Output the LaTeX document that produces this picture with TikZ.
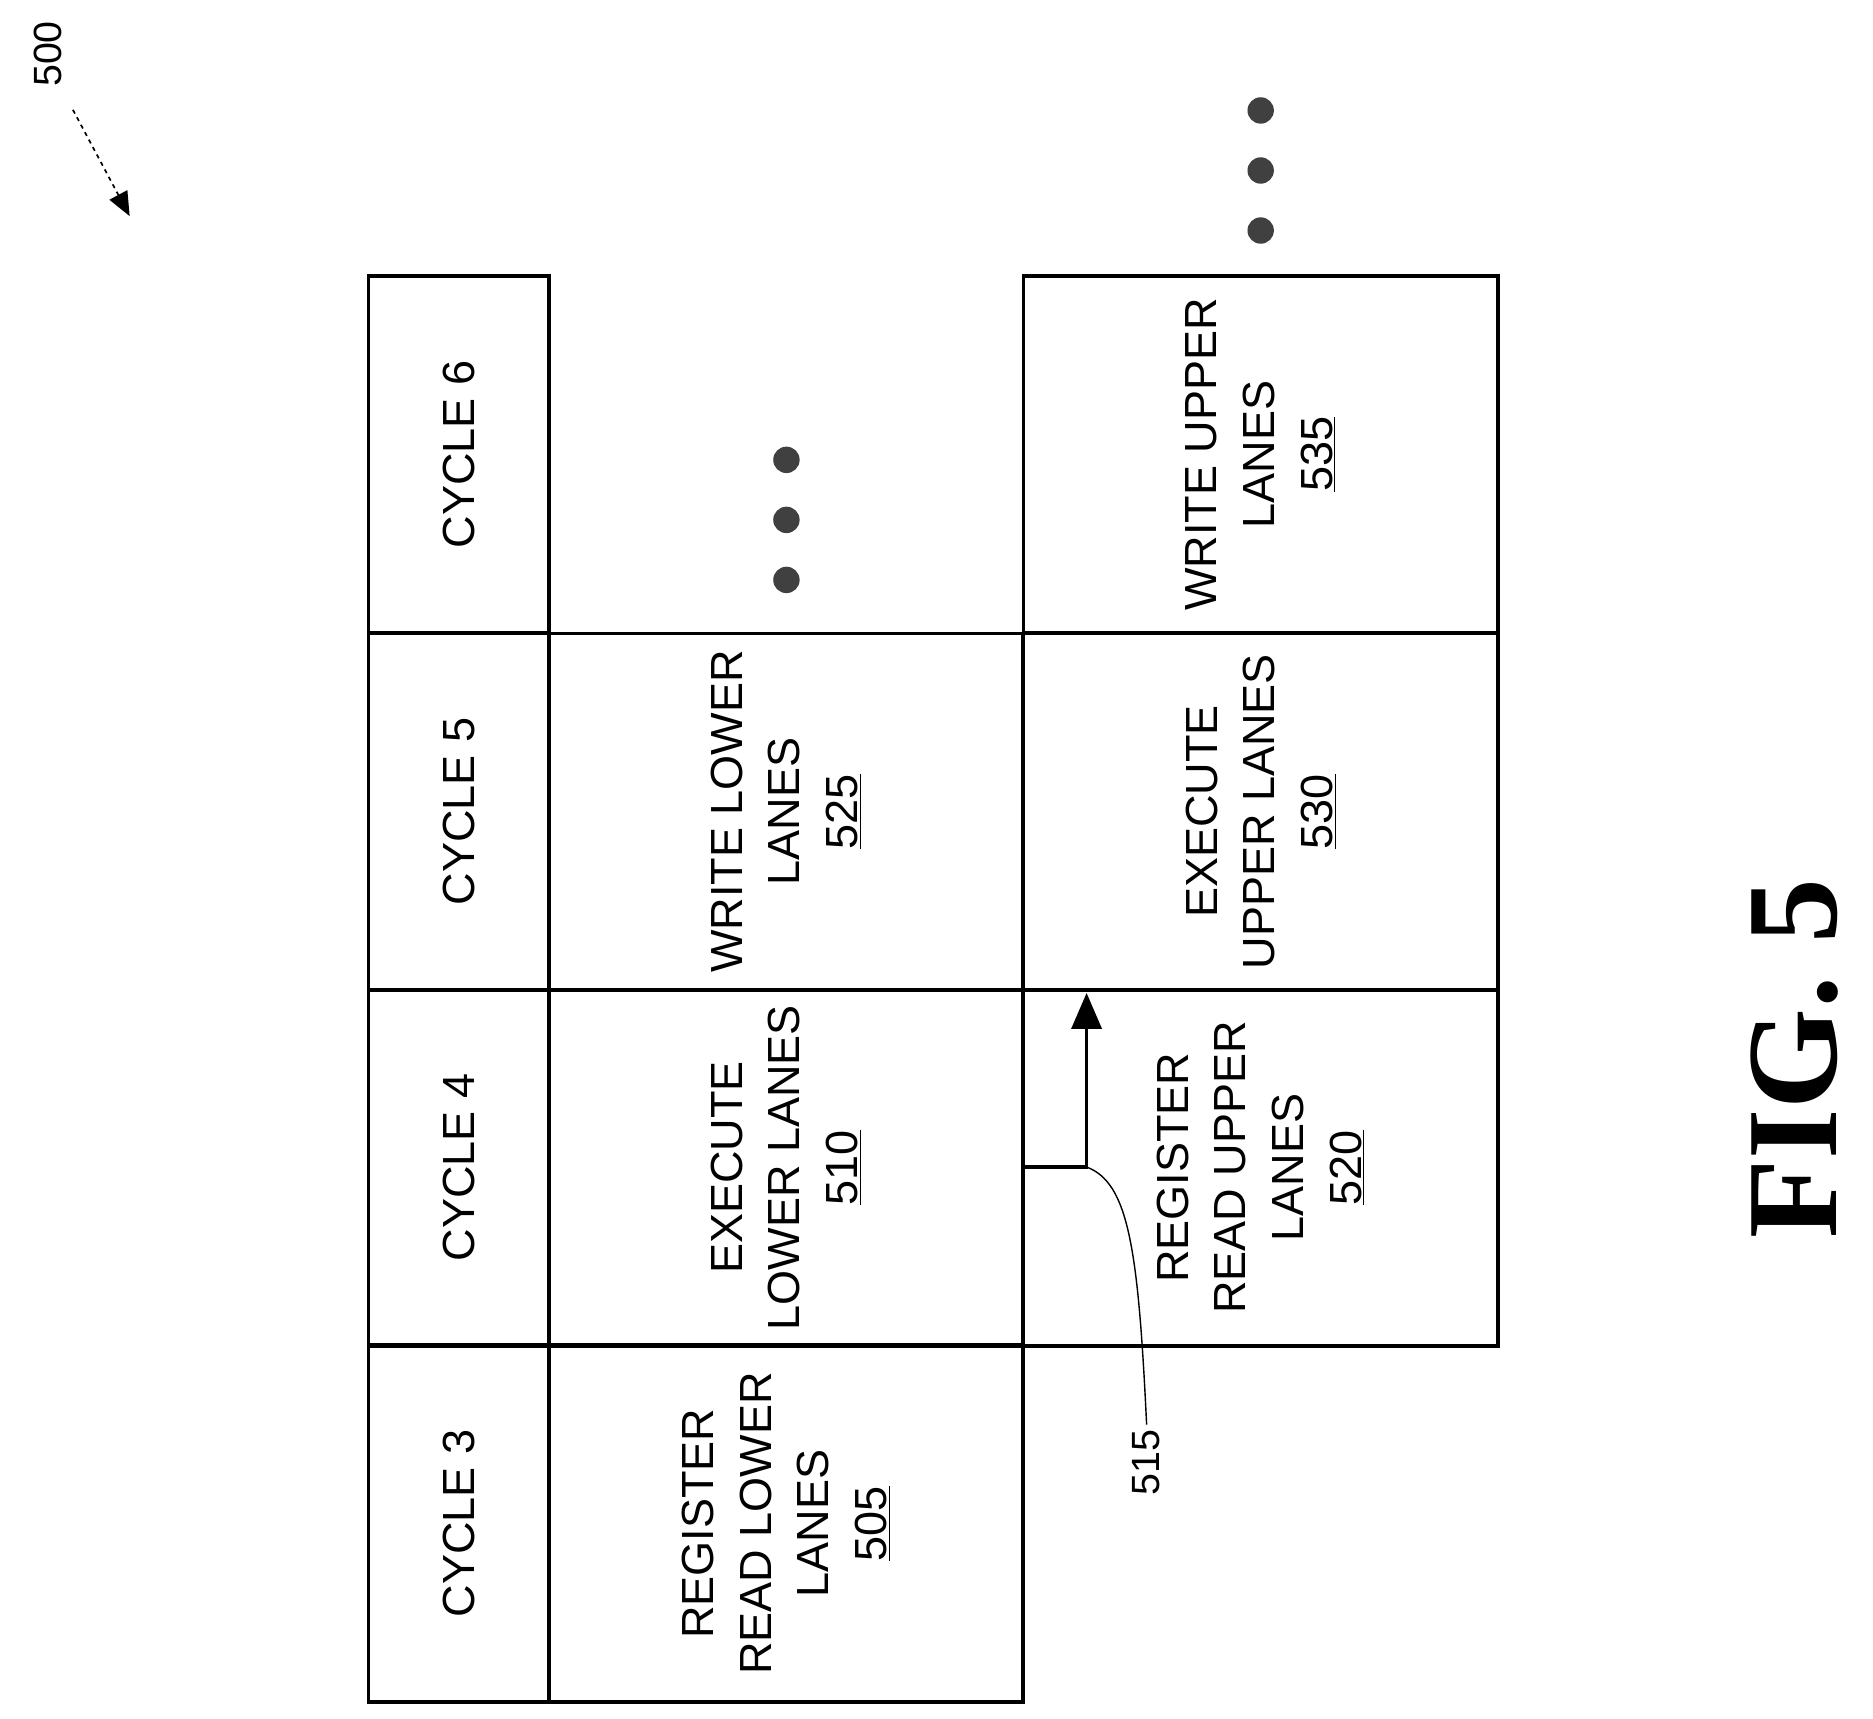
\documentclass[tikz,border=0pt]{standalone}
\usepackage{fontspec}
\setmainfont{Liberation Sans}
\newfontfamily\figfont{Liberation Serif}
\usetikzlibrary{arrows.meta}
\tikzset{
  cell/.style={draw,line width=2.6pt,rotate=90,align=center,inner sep=0pt,
    font=\fontsize{32}{41}\selectfont},
  cyc/.style={cell,minimum width=8.91cm,minimum height=4.5cm},
  lane/.style={cell,minimum width=8.91cm,minimum height=11.85cm},
  dot/.style={circle,fill=black!75,inner sep=0pt,minimum size=0.66cm},
  refnum/.style={rotate=90,font=\fontsize{28}{34}\selectfont}
}
\begin{document}
\begin{tikzpicture}[x=0.03cm,y=-0.03cm]
  \useasboundingbox (0,0) rectangle (1560,1431);
  % cycle column
  \node[cyc] (cy6) at (382,378.5) {CYCLE 6};
  \node[cyc] (cy5) at (382,676) {CYCLE 5};
  \node[cyc] (cy4) at (382,972.5) {CYCLE 4};
  \node[cyc] (cy3) at (382,1269) {CYCLE 3};
  % lower lanes
  \node[lane] (wl) at (654.5,676) {WRITE LOWER\\LANES\\\underline{525}};
  \node[lane] (el) at (654.5,972.5) {EXECUTE\\LOWER LANES\\\underline{510}};
  \node[lane] (rl) at (654.5,1269) {REGISTER\\READ LOWER\\LANES\\\underline{505}};
  % upper lanes
  \node[lane] (wu) at (1050,378.5) {WRITE UPPER\\LANES\\\underline{535}};
  \node[lane] (eu) at (1050,676) {EXECUTE\\UPPER LANES\\\underline{530}};
  \node[lane] (ru) at (1050,972.5) {REGISTER\\READ UPPER\\LANES\\\underline{520}};
  % ellipsis dots
  \foreach \y [count=\i] in {383,433,483} \node[dot] (ld\i) at (655,\y) {};
  \foreach \y [count=\i] in {92,142,192} \node[dot] (ud\i) at (1050,\y) {};
  % forwarding arrow
  \coordinate (fwd) at (852,972);
  \coordinate (fwdtip) at (905,827);
  \coordinate (bend) at (905,972);
  \draw[line width=2.6pt,-{Triangle[length=0.9cm,width=0.75cm]}] (fwd) -| (fwdtip);
  \node[refnum] (n515) at (955,1218) {515};
  \draw[line width=1pt] (n515.east) .. controls (948,1040) and (940,985) .. (bend);
  % figure labels
  \node[refnum] (n500) at (40,45) {500};
  \coordinate (p500) at (108,180);
  \draw[line width=1.2pt,dashed,-{Triangle[length=0.6cm,width=0.5cm]}] ([shift={(5,15)}]n500.south west) -- (p500);
  \node[rotate=90,font=\figfont\bfseries\fontsize{92}{92}\selectfont] (fig) at (1495,882) {FIG. 5};
\end{tikzpicture}
\end{document}
